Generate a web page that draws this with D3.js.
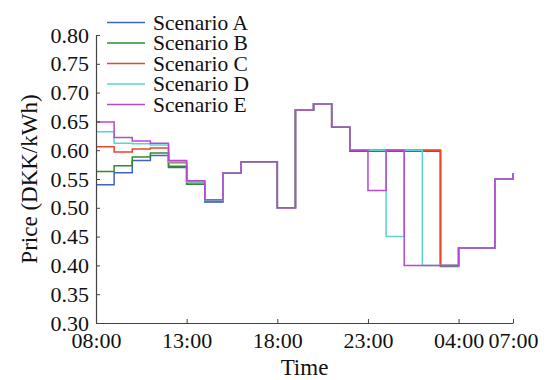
<!DOCTYPE html>
<html>
<head>
<meta charset="utf-8">
<script src="https://cdn.jsdelivr.net/npm/d3@7"></script>
<style>
  body { margin: 0; background: #fff; }
  text { font-family: "Liberation Serif", "DejaVu Serif", serif; fill: #111; }
</style>
</head>
<body>
<div id="chart"></div>
<script>
// hours after 08:00, one point per hour, last point is 07:00 next day
const hours = d3.range(0, 24);
const tickHours = [0, 5, 10, 15, 20, 23];
const tickLabels = ['08:00', '13:00', '18:00', '23:00', '04:00', '07:00'];
const yTicks = [0.30, 0.35, 0.40, 0.45, 0.50, 0.55, 0.60, 0.65, 0.70, 0.75, 0.80];

const seriesNames = ['Scenario A', 'Scenario B', 'Scenario C', 'Scenario D', 'Scenario E'];
const seriesColors = ['#3f63c4', '#2e8c2e', '#ee4428', '#5cd2d2', '#b44ad2'];

const scenarioA = [0.540, 0.561, 0.582, 0.591, 0.570, 0.541, 0.510, 0.56, 0.58, 0.58, 0.50, 0.67,
                   0.68, 0.64, 0.598, 0.598, 0.598, 0.598, 0.598, 0.398, 0.43, 0.43, 0.55, 0.56];
const scenarioB = [0.563, 0.573, 0.588, 0.595, 0.572, 0.541, 0.511, 0.56, 0.58, 0.58, 0.50, 0.67,
                   0.68, 0.64, 0.60, 0.60, 0.60, 0.60, 0.60, 0.40, 0.43, 0.43, 0.55, 0.56];
const scenarioC = [0.606, 0.597, 0.602, 0.604, 0.578, 0.545, 0.512, 0.56, 0.58, 0.58, 0.50, 0.67,
                   0.68, 0.64, 0.60, 0.60, 0.60, 0.60, 0.60, 0.40, 0.43, 0.43, 0.55, 0.56];
const scenarioD = [0.632, 0.612, 0.611, 0.609, 0.580, 0.545, 0.513, 0.56, 0.58, 0.58, 0.50, 0.67,
                   0.68, 0.64, 0.60, 0.60, 0.45, 0.60, 0.40, 0.40, 0.43, 0.43, 0.55, 0.56];
const scenarioE = [0.649, 0.622, 0.616, 0.612, 0.582, 0.547, 0.514, 0.56, 0.58, 0.58, 0.50, 0.67,
                   0.68, 0.64, 0.60, 0.53, 0.60, 0.40, 0.40, 0.40, 0.43, 0.43, 0.55, 0.56];

function initStepChart(divId) {
  const marginLeft = 96,
      marginTop = 35,
      width = 417,
      height = 288;

  const svg = d3.select('#' + divId)
    .append('svg')
    .attr('width', 554)
    .attr('height', 380);

  const x = d3.scaleLinear().domain([0, 23]).range([0, width]),
      y = d3.scaleLinear().domain([0.30, 0.80]).range([height, 0]);

  const g = svg.append('g')
    .attr('transform', 'translate(' + marginLeft + ',' + marginTop + ')');

  const allSeries = [scenarioA, scenarioB, scenarioC, scenarioD, scenarioE];

  const line = d3.line()
    .curve(d3.curveStepAfter)
    .x(function(d, i) { return x(hours[i]); })
    .y(function(d) { return y(d); });

  g.selectAll('.series')
    .data(allSeries)
    .enter().append('path')
    .attr('class', 'series')
    .attr('fill', 'none')
    .attr('stroke', function(d, i) { return seriesColors[i]; })
    .attr('stroke-width', 1.5)
    .attr('d', line);

  // axes, ticks pointing inward
  const xAxis = g.append('g')
    .attr('transform', 'translate(0,' + height + ')')
    .call(d3.axisBottom(x)
      .tickValues(tickHours)
      .tickSizeInner(-4)
      .tickSizeOuter(0)
      .tickPadding(8)
      .tickFormat(function(d, i) { return tickLabels[i]; }));

  const yAxis = g.append('g')
    .call(d3.axisLeft(y)
      .tickValues(yTicks)
      .tickSizeInner(-4)
      .tickSizeOuter(0)
      .tickPadding(7)
      .tickFormat(d3.format('.2f')));

  [xAxis, yAxis].forEach(function(a) {
    a.select('.domain').attr('stroke', '#444').attr('stroke-width', 1.2);
    a.selectAll('.tick line').attr('stroke', '#444');
    a.selectAll('.tick text')
      .attr('font-size', 22)
      .attr('fill', '#111');
  });
  xAxis.selectAll('.tick text').attr('dy', '0.78em');

  svg.append('text')
    .attr('x', marginLeft + width / 2)
    .attr('y', 375)
    .attr('text-anchor', 'middle')
    .attr('font-size', 23)
    .text('Time');

  svg.append('text')
    .attr('transform', 'translate(37,' + (marginTop + height / 2) + ') rotate(-90)')
    .attr('text-anchor', 'middle')
    .attr('font-size', 23)
    .text('Price (DKK/kWh)');

  // legend, rows packed tightly as in the original
  const legend = svg.selectAll('.legend')
    .data(seriesNames)
    .enter().append('g')
    .attr('class', 'legend')
    .attr('transform', function(d, i) { return 'translate(107,' + (22.5 + i * 20.5) + ')'; });

  legend.append('line')
    .attr('x1', 0)
    .attr('x2', 38)
    .attr('stroke', function(d, i) { return seriesColors[i]; })
    .attr('stroke-width', 1.5);

  legend.append('text')
    .attr('x', 46)
    .attr('dy', '0.34em')
    .attr('font-size', 21.5)
    .text(function(d) { return d; });
}

initStepChart('chart');
</script>
</body>
</html>
